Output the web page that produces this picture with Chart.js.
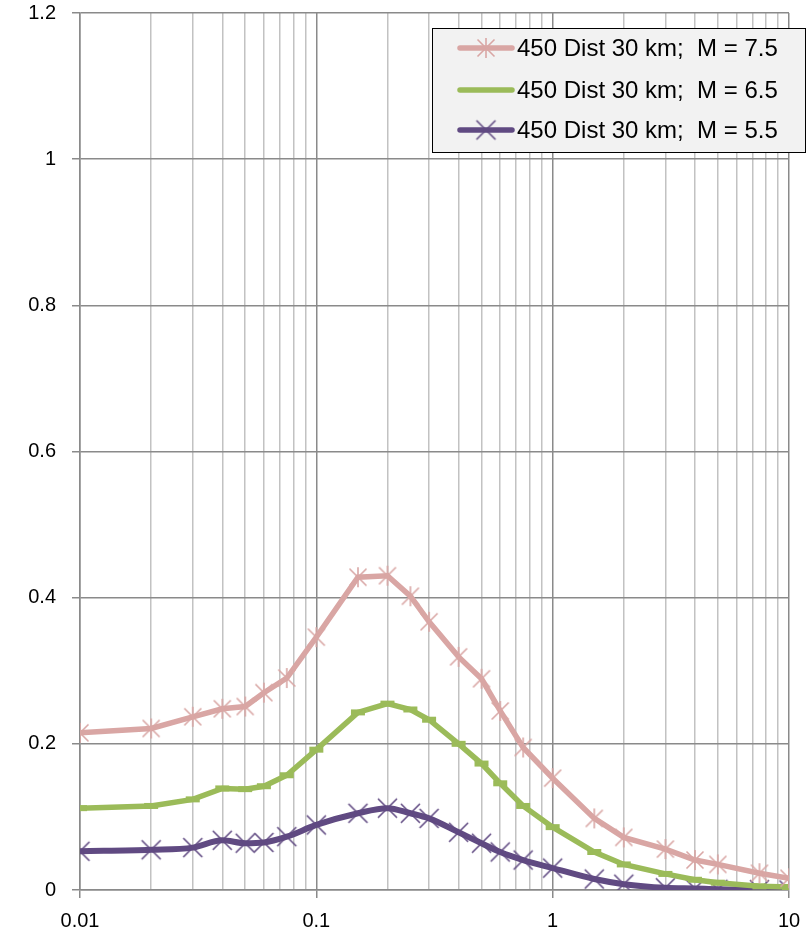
<!DOCTYPE html>
<html>
<head>
<meta charset="utf-8">
<script src="https://cdn.jsdelivr.net/npm/chart.js@4/dist/chart.umd.min.js"></script>
<style>
  html, body { margin: 0; padding: 0; background: #fff; }
  #wrap { width: 812px; height: 937px; position: relative; }
</style>
</head>
<body>
<div id="wrap"><canvas id="chart" width="812" height="937"></canvas></div>
<script>
// periods / x values
const xValues = [0.01, 0.02, 0.03, 0.04, 0.05, 0.06, 0.075, 0.1, 0.15, 0.2, 0.25, 0.3, 0.4, 0.5, 0.6, 0.75, 1, 1.5, 2, 3, 4, 5, 7.5, 10];
const m75 = [0.215, 0.221, 0.237, 0.248, 0.251, 0.270, 0.290, 0.346, 0.428, 0.430, 0.402, 0.367, 0.319, 0.289, 0.245, 0.195, 0.153, 0.098, 0.072, 0.056, 0.041, 0.035, 0.023, 0.016];
const m65 = [0.112, 0.115, 0.124, 0.139, 0.138, 0.142, 0.157, 0.192, 0.243, 0.255, 0.247, 0.233, 0.200, 0.173, 0.146, 0.115, 0.086, 0.052, 0.035, 0.022, 0.014, 0.010, 0.005, 0.004];
const m55 = [0.053, 0.055, 0.058, 0.068, 0.064, 0.065, 0.073, 0.089, 0.105, 0.112, 0.105, 0.098, 0.079, 0.064, 0.052, 0.041, 0.030, 0.015, 0.008, 0.003, 0.002, 0.001, 0.0005, 0];
const seriesLabels = ['450 Dist 30 km;  M = 7.5', '450 Dist 30 km;  M = 6.5', '450 Dist 30 km;  M = 5.5'];
const xTicks = [0.01,0.02,0.03,0.04,0.05,0.06,0.07,0.08,0.09,0.1,0.2,0.3,0.4,0.5,0.6,0.7,0.8,0.9,1,2,3,4,5,6,7,8,9,10];
const xTickLabels = {0.01: '0.01', 0.1: '0.1', 1: '1', 10: '10'};

const FONT = "'Liberation Sans', Arial, sans-serif";

function isDecade(v) {
  const l = Math.log10(v);
  return Math.abs(l - Math.round(l)) < 1e-9;
}

// excel style markers drawn on a small canvas
function marker(color, r, withBar) {
  const c = document.createElement('canvas');
  c.width = c.height = 2 * r + 4;
  const g = c.getContext('2d');
  g.strokeStyle = color;
  g.lineWidth = 1.6;
  const m = r + 2;
  const a = withBar ? r * 0.85 : r;
  g.beginPath();
  g.moveTo(m - a, m - a); g.lineTo(m + a, m + a);
  g.moveTo(m + a, m - a); g.lineTo(m - a, m + a);
  if (withBar) { g.moveTo(m, m - r); g.lineTo(m, m + r); }
  g.stroke();
  return c;
}

const PINK = '#D9A6A4', GREEN = '#9BBB59', PURPLE = '#604A82';

const toPts = arr => arr.map((y, i) => ({x: xValues[i], y: y}));

const legendBox = {
  id: 'legendBox',
  afterDraw(chart) {
    const ctx = chart.ctx;
    ctx.save();
    ctx.fillStyle = '#F2F2F2';
    ctx.fillRect(432, 28, 374, 125);
    ctx.strokeStyle = '#000';
    ctx.lineWidth = 1;
    ctx.strokeRect(432.5, 28.5, 373, 124);
    const ys = [48, 90, 130];
    chart.data.datasets.forEach((ds, i) => {
      const y = ys[i];
      ctx.strokeStyle = ds.borderColor;
      ctx.lineWidth = 5.5;
      ctx.lineCap = 'round';
      ctx.beginPath();
      ctx.moveTo(460, y); ctx.lineTo(512, y);
      ctx.stroke();
      if (ds.legendMarker) {
        const img = ds.legendMarker;
        ctx.drawImage(img, 486 - img.width / 2, y - img.height / 2);
      }
      ctx.fillStyle = '#000';
      ctx.font = '24px ' + FONT;
      ctx.textBaseline = 'middle';
      ctx.textAlign = 'left';
      ctx.fillText(ds.label, 517, y + 1);
    });
    ctx.restore();
  }
};

const pinkStar = marker(PINK, 10, true);
const purpleX = marker(PURPLE, 9.5, false);

new Chart(document.getElementById('chart').getContext('2d'), {
  type: 'line',
  data: {
    datasets: [
      {label: seriesLabels[0], data: toPts(m75), borderColor: PINK, borderWidth: 5.5,
       pointStyle: pinkStar, legendMarker: pinkStar, tension: 0},
      {label: seriesLabels[1], data: toPts(m65), borderColor: GREEN, backgroundColor: GREEN, borderWidth: 5.5,
       pointStyle: 'line', pointRadius: 7, pointBorderWidth: 6, tension: 0},
      {label: seriesLabels[2], data: toPts(m55), borderColor: PURPLE, borderWidth: 6,
       pointStyle: purpleX, legendMarker: purpleX, cubicInterpolationMode: 'monotone'}
    ]
  },
  options: {
    responsive: false,
    animation: false,
    events: [],
    layout: {padding: {top: 10, right: 23, left: 0, bottom: 0}},
    plugins: {legend: {display: false}, tooltip: {enabled: false}},
    scales: {
      x: {
        type: 'logarithmic',
        min: 0.01, max: 10,
        afterBuildTicks: s => { s.ticks = xTicks.map(v => ({value: v})); },
        afterFit: s => { s.height = 47; s.paddingLeft = 0; s.paddingRight = 0; },
        grid: {
          color: c => isDecade(c.tick.value) ? '#8A8A8A' : '#C2C2C2',
          lineWidth: 1.5,
          tickColor: c => isDecade(c.tick.value) ? '#8A8A8A' : 'rgba(0,0,0,0)',
          tickLength: 8
        },
        border: {color: '#8A8A8A', width: 1.5},
        ticks: {
          autoSkip: false, maxRotation: 0, padding: 11,
          color: '#000', font: {family: FONT, size: 20},
          callback: v => xTickLabels[v] || ''
        }
      },
      y: {
        min: 0, max: 1.2,
        afterFit: s => { s.width = 80; s.paddingTop = 0; s.paddingBottom = 0; },
        grid: {color: '#8A8A8A', lineWidth: 1.5, tickLength: 8},
        border: {color: '#8A8A8A', width: 1.5},
        ticks: {
          stepSize: 0.2, padding: 16, color: '#000', font: {family: FONT, size: 20},
          callback: v => String(Math.round(v * 10) / 10)
        }
      }
    }
  },
  plugins: [legendBox]
});
</script>
</body>
</html>
